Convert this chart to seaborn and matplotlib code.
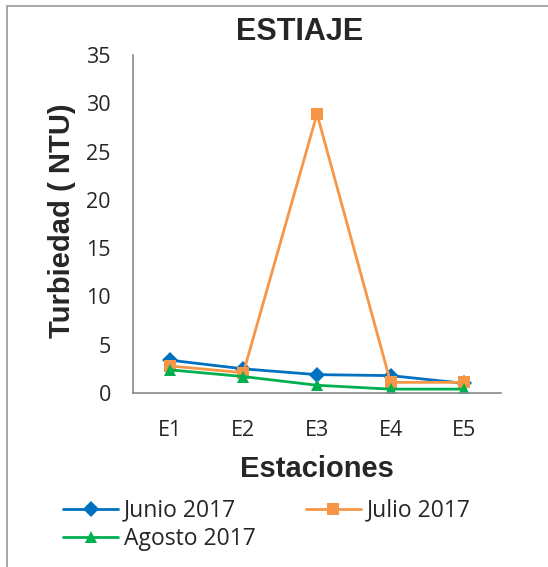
import matplotlib
matplotlib.use("Agg")
import matplotlib.pyplot as plt
import pandas as pd
import seaborn as sns

estaciones = ["E1", "E2", "E3", "E4", "E5"]
junio = [3.4, 2.5, 1.9, 1.8, 1.0]
julio = [2.8, 2.1, 28.9, 1.1, 1.1]
agosto = [2.4, 1.7, 0.8, 0.4, 0.4]
series = ["Junio 2017", "Julio 2017", "Agosto 2017"]
colors = ["#0070C0", "#F79646", "#00B050"]
markers = ["D", "s", "^"]

df = pd.DataFrame({"Estacion": estaciones, series[0]: junio,
                   series[1]: julio, series[2]: agosto})
long = df.melt(id_vars="Estacion", var_name="Serie", value_name="NTU")
long["x"] = long["Estacion"].map({e: i for i, e in enumerate(estaciones)})

sns.set_style("white")
plt.rcParams["font.family"] = ["Liberation Sans", "DejaVu Sans"]

fig = plt.figure(figsize=(5.48, 5.67), dpi=100)
ax = fig.add_axes([0.2427, 0.3069, 0.6715, 0.596])

sns.lineplot(data=long, x="x", y="NTU", hue="Serie", style="Serie",
             hue_order=series, style_order=series,
             palette=colors, markers=markers, dashes=False,
             markersize=8.5, linewidth=2, markeredgewidth=0, ax=ax)

ax.set_xlim(-0.5, 4.5)
ax.set_ylim(0, 35)
ax.set_yticks(range(0, 36, 5))
ax.set_yticklabels([str(v) for v in range(0, 36, 5)], fontsize=15.5,
                   family="Open Sans")
ax.set_xticks(range(len(estaciones)))
ax.set_xticklabels(estaciones, fontsize=15.5, family="Open Sans")
ax.tick_params(axis="y", length=0, pad=16)
ax.tick_params(axis="x", length=0, pad=19.5)
for s in ["top", "right"]:
    ax.spines[s].set_visible(False)
for s in ["left", "bottom"]:
    ax.spines[s].set_color("#898989")
    ax.spines[s].set_linewidth(1.2)

fig.text(0.547, 1 - 40 / 567, "ESTIAJE", fontsize=22, fontweight="bold",
         ha="center", va="baseline")
ax.set_xlabel("Estaciones", fontsize=21, fontweight="bold", labelpad=10)
ax.set_ylabel("Turbiedad ( NTU)", fontsize=21, fontweight="bold")
ax.yaxis.set_label_coords(-0.155, 0.509)

# row-wise legend: Junio, Julio / Agosto
handles, labels = ax.get_legend_handles_labels()
order = [0, 2, 1]
ax.legend([handles[i] for i in order], [labels[i] for i in order],
          loc="upper left", bbox_to_anchor=(-0.19, -0.313), ncol=2,
          frameon=False, prop={"family": "Open Sans", "size": 16.5},
          handlelength=2.4, columnspacing=2.2, handletextpad=0.25,
          labelspacing=0.2, borderaxespad=0, borderpad=0)

fig.patches.append(plt.Rectangle((7 / 548, -0.1), 1.2, 0.1 + 1 - 6 / 567,
                                 transform=fig.transFigure, fill=False,
                                 edgecolor="#989898", linewidth=1.2))
fig.savefig("out.png", dpi=100)
